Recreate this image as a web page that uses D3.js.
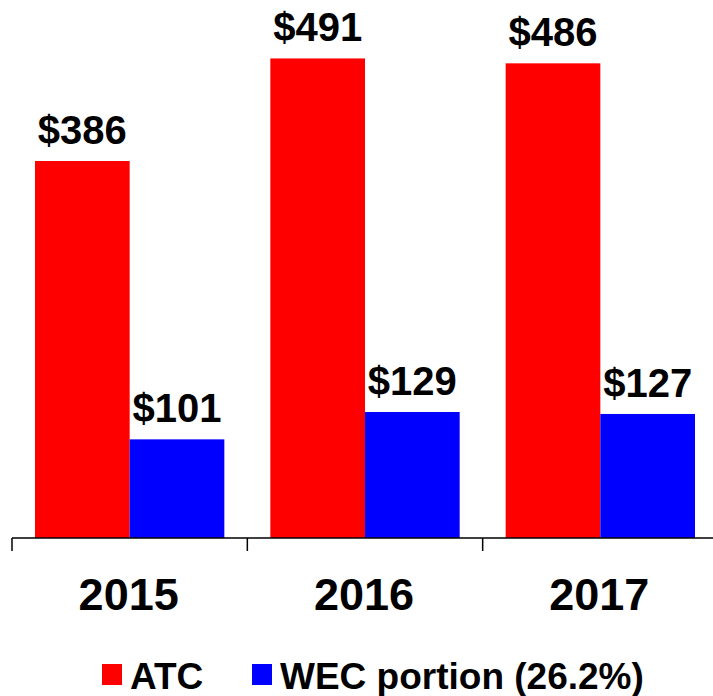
<!DOCTYPE html>
<html>
<head>
<meta charset="utf-8">
<script src="https://cdn.jsdelivr.net/npm/d3@7"></script>
<style>
  body { margin: 0; background: #fff; }
  text { font-family: "Liberation Sans", Arial, sans-serif; font-weight: bold; }
</style>
</head>
<body>
<div id="chart"></div>
<script>
const years = ['2015', '2016', '2017'];
const atc = [386, 491, 486];
const wec = [101, 129, 127];
const seriesNames = ['ATC', 'WEC portion (26.2%)'];
const colors = ['#ff0000', '#0000ff'];

const width = 713, height = 696;
const baseY = 538;

const svg = d3.select('#chart')
	.append('svg')
	.attr('width', width)
	.attr('height', height);

const x = d3.scaleBand()
	.domain(years)
	.range([12, 718])
	.paddingInner(0)
	.paddingOuter(0);

const inner = d3.scaleBand()
	.domain([0, 1])
	.range([23, x.bandwidth() - 23]);

const y = d3.scaleLinear()
	.domain([0, 386])
	.range([baseY, 161]);

const rows = years.map((yr, i) => ({ year: yr, vals: [atc[i], wec[i]] }));

const groups = svg.selectAll('g.grp')
	.data(rows)
	.join('g')
	.attr('class', 'grp')
	.attr('transform', d => `translate(${x(d.year)},0)`);

groups.selectAll('rect')
	.data(d => d.vals.map((v, k) => ({ v, k })))
	.join('rect')
	.attr('x', d => inner(d.k))
	.attr('width', inner.bandwidth())
	.attr('y', d => y(d.v))
	.attr('height', d => baseY - y(d.v))
	.attr('fill', d => colors[d.k]);

groups.selectAll('text.val')
	.data(d => d.vals.map((v, k) => ({ v, k })))
	.join('text')
	.attr('class', 'val')
	.attr('x', d => inner(d.k) + inner.bandwidth() / 2)
	.attr('y', d => y(d.v) - 17)
	.attr('text-anchor', 'middle')
	.style('font-size', '40px')
	.text(d => '$' + d.v);

// axis
const axis = svg.append('g');
axis.append('line')
	.attr('x1', 12).attr('x2', width)
	.attr('y1', baseY).attr('y2', baseY)
	.attr('stroke', '#000').attr('stroke-width', 1.5);
axis.selectAll('line.tick')
	.data(years)
	.join('line')
	.attr('class', 'tick')
	.attr('x1', d => x(d)).attr('x2', d => x(d))
	.attr('y1', baseY).attr('y2', baseY + 13)
	.attr('stroke', '#000').attr('stroke-width', 1.5);
axis.selectAll('text.yr')
	.data(years)
	.join('text')
	.attr('class', 'yr')
	.attr('x', d => x(d) + x.bandwidth() / 2 - 1)
	.attr('y', 610)
	.attr('text-anchor', 'middle')
	.style('font-size', '45px')
	.text(d => d);

// legend
const legX = [102, 252];
const leg = svg.selectAll('g.leg')
	.data(seriesNames)
	.join('g')
	.attr('class', 'leg')
	.attr('transform', (d, i) => `translate(${legX[i]},664)`);
leg.append('rect')
	.attr('width', 20).attr('height', 21)
	.attr('fill', (d, i) => colors[i]);
leg.append('text')
	.attr('x', 28)
	.attr('y', 25)
	.style('font-size', '37px')
	.text(d => d);
</script>
</body>
</html>
